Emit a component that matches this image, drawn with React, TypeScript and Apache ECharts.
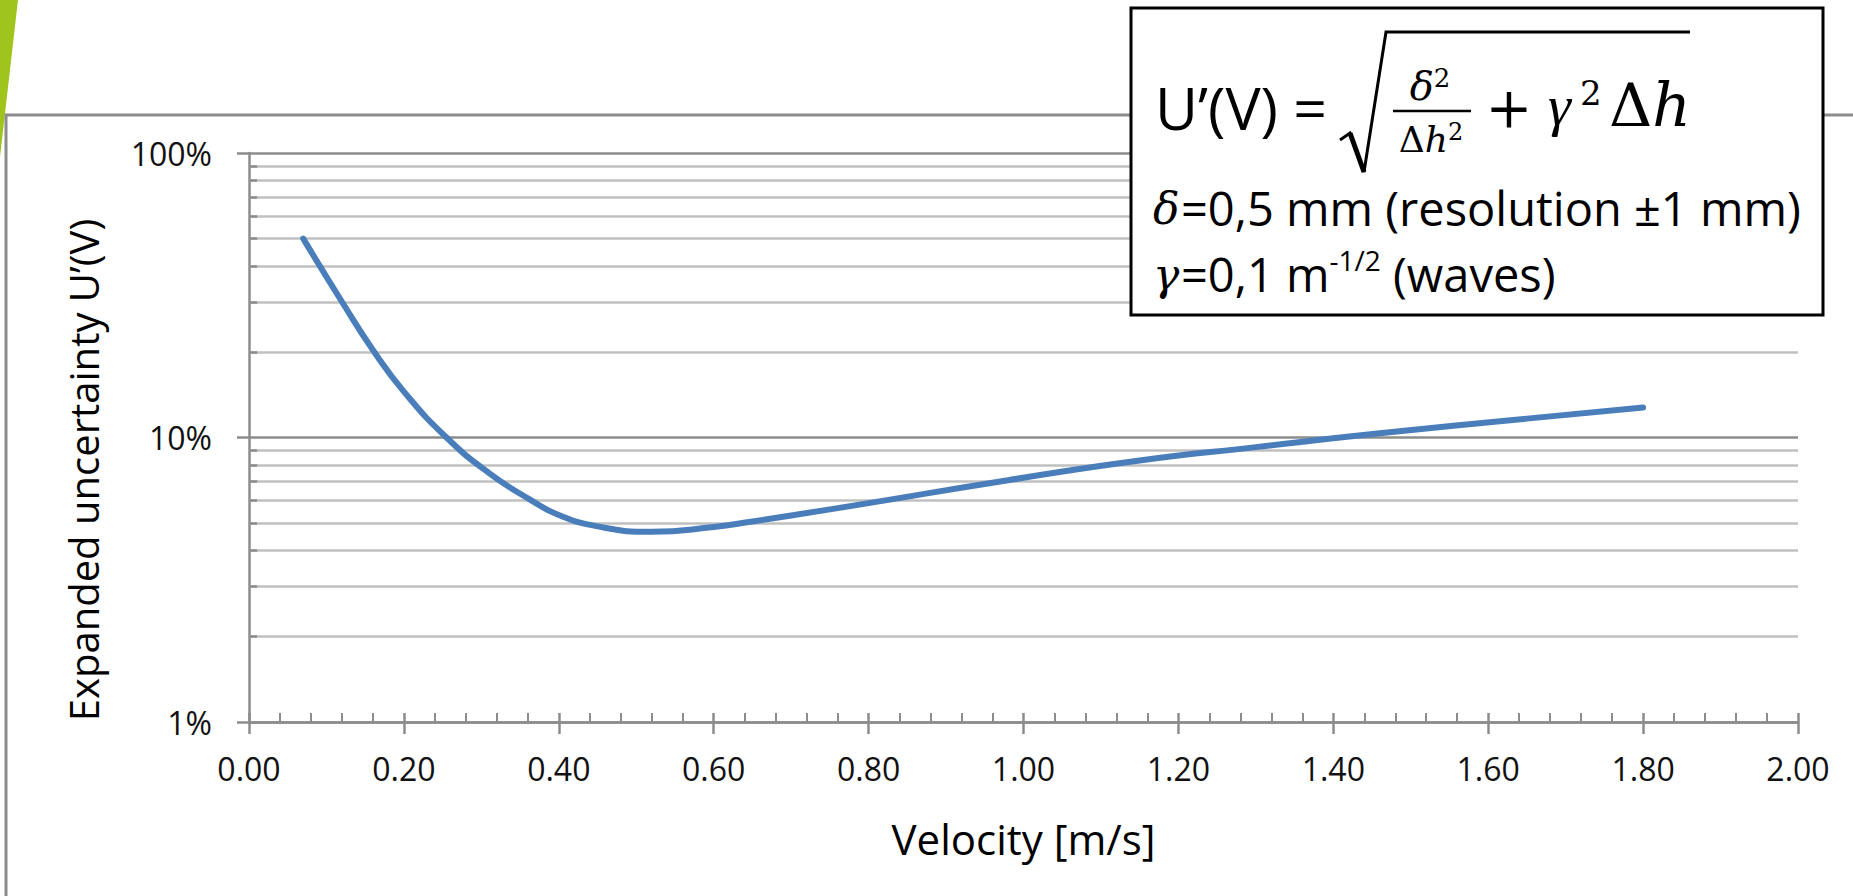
import React, { useEffect, useRef } from "react";
import * as echarts from "echarts";

const velocity = [0.07, 0.12, 0.16, 0.2, 0.255, 0.31, 0.365, 0.4, 0.45, 0.52, 0.6, 0.65, 0.7, 0.8, 0.98, 1.15, 1.3, 1.46, 1.65, 1.8];
const uncertainty = [0.5, 0.3, 0.203, 0.145, 0.1, 0.075, 0.06, 0.0534, 0.0487, 0.0466, 0.0485, 0.0507, 0.0532, 0.0588, 0.0708, 0.083, 0.0925, 0.1035, 0.1165, 0.1275];
const minorLevels = [0.02, 0.03, 0.04, 0.05, 0.06, 0.07, 0.08, 0.09, 0.2, 0.3, 0.4, 0.5, 0.6, 0.7, 0.8, 0.9];
const xTitle = "Velocity [m/s]";
const yTitle = "Expanded uncertainty U’(V)";
const formulaLead = "U’(V) =";
const line2Text = "=0,5 mm (resolution ±1 mm)";
const line3a = "=0,1 m";
const line3sup = "-1/2";
const line3b = " (waves)";

const SANS = "'Open Sans', 'Noto Sans', sans-serif";
const SERIF = "'Liberation Serif', 'DejaVu Serif', serif";
const MATH = "'DejaVu Serif', 'Liberation Serif', serif";
const AXIS = "#8c8c8c";
const MINOR = "#c0c0c0";

export default function App() {
  const ref = useRef<HTMLDivElement>(null);
  useEffect(() => {
    if (!ref.current) return;
    const chart = echarts.init(ref.current, undefined, { renderer: "svg" });
    const points = velocity.map((v, i) => [v, uncertainty[i]]);
    const minorGrid = minorLevels.map((v) => ({ yAxis: v }));
    const minorTicks = minorLevels.map((v) => [{ coord: [0, v] }, { coord: [0.0105, v] }]);
    chart.setOption({
      animation: false,
      backgroundColor: "#ffffff",
      grid: { left: 249, right: 55, top: 153, bottom: 174, containLabel: false },
      xAxis: [
        {
          type: "value",
          min: 0,
          max: 2,
          interval: 0.2,
          position: "bottom",
          axisLine: { show: true, lineStyle: { color: AXIS, width: 2.5 } },
          axisTick: { show: true, inside: true, length: 9, lineStyle: { color: AXIS, width: 2.5 } },
          minorTick: { show: true, splitNumber: 5, length: 9, lineStyle: { color: AXIS, width: 2 } },
          splitLine: { show: false },
          axisLabel: {
            margin: 30,
            fontSize: 32,
            fontFamily: SANS,
            color: "#111",
            formatter: (v: number) => v.toFixed(2),
          },
          name: xTitle,
          nameLocation: "middle",
          nameGap: 95,
          nameTextStyle: { fontSize: 42, fontFamily: SANS, color: "#000" },
        },
        {
          type: "value",
          min: 0,
          max: 2,
          interval: 0.2,
          position: "bottom",
          axisLine: { show: false },
          axisTick: { show: true, inside: false, length: 12, lineStyle: { color: AXIS, width: 2.5 } },
          axisLabel: { show: false },
          splitLine: { show: false },
        },
      ],
      yAxis: {
        type: "log",
        logBase: 10,
        min: 0.01,
        max: 1,
        axisLine: { show: true, lineStyle: { color: AXIS, width: 2.5 } },
        axisTick: { show: true, inside: false, length: 12, lineStyle: { color: AXIS, width: 2.5 } },
        splitLine: { show: true, lineStyle: { color: AXIS, width: 2.5 } },
        axisLabel: {
          margin: 37,
          fontSize: 32,
          fontFamily: SANS,
          color: "#111",
          formatter: (v: number) => Math.round(v * 100) + "%",
        },
      },
      series: [
        {
          type: "line",
          xAxisIndex: 0,
          data: points,
          smooth: 0.5,
          symbol: "none",
          z: 10,
          lineStyle: { color: "#4a7ebb", width: 6, cap: "round", join: "round" },
          markLine: {
            silent: true,
            symbol: "none",
            label: { show: false },
            animation: false,
            data: [
              ...minorGrid.map((d) => ({ ...d, lineStyle: { color: MINOR, width: 2.5, type: "solid" } })),
              ...minorTicks.map((pair) => [
                { ...pair[0], lineStyle: { color: AXIS, width: 2.5, type: "solid" } },
                pair[1],
              ]),
            ],
          },
        },
      ],
      graphic: [
        { type: "polygon", z: 1, shape: { points: [[0, 0], [18, 0], [0, 157]] }, style: { fill: "#9fc41c" } },
        { type: "polyline", z: 1, shape: { points: [[6, 896], [6, 115], [1853, 115]] }, style: { stroke: AXIS, lineWidth: 3, fill: "none" } },
        { type: "rect", z: 20, shape: { x: 1131, y: 8, width: 692, height: 307 }, style: { fill: "#fff", stroke: "#000", lineWidth: 3 } },
        { type: "text", z: 21, x: 1155, y: 107, style: { text: formulaLead, font: `59px ${SANS}`, fill: "#000", align: "left", verticalAlign: "middle" } },
        { type: "polyline", z: 21, shape: { points: [[1340, 140], [1350, 133], [1364, 172], [1386, 32], [1690, 32]] }, style: { stroke: "#000", lineWidth: 3, fill: "none" } },
        { type: "line", z: 21, shape: { x1: 1350, y1: 133, x2: 1364, y2: 172 }, style: { stroke: "#000", lineWidth: 5 } },
        {
          type: "text", z: 21, x: 1430, y: 86,
          style: {
            text: "{i|δ}{s|2}",
            rich: { i: { font: `italic 40px ${MATH}`, lineHeight: 42 }, s: { font: `26px ${MATH}`, lineHeight: 26, verticalAlign: "top" } },
            fill: "#000", align: "center", verticalAlign: "middle",
          },
        },
        { type: "line", z: 21, shape: { x1: 1393, y1: 111, x2: 1471, y2: 111 }, style: { stroke: "#000", lineWidth: 2.5 } },
        {
          type: "text", z: 21, x: 1431, y: 139,
          style: {
            text: "{u|Δ}{i|h}{s|2}",
            rich: {
              u: { font: `36px ${MATH}`, lineHeight: 38 },
              i: { font: `italic 36px ${MATH}`, lineHeight: 38 },
              s: { font: `24px ${MATH}`, lineHeight: 24, verticalAlign: "top" },
            },
            fill: "#000", align: "center", verticalAlign: "middle",
          },
        },
        { type: "text", z: 21, x: 1509, y: 107, style: { text: "+", font: `56px ${MATH}`, fill: "#000", align: "center", verticalAlign: "middle" } },
        { type: "text", z: 21, x: 1548, y: 105, style: { text: "γ", font: `italic 58px ${SERIF}`, fill: "#000", align: "left", verticalAlign: "middle" } },
        { type: "text", z: 21, x: 1580, y: 93, style: { text: "2", font: `34px ${MATH}`, fill: "#000", align: "left", verticalAlign: "middle" } },
        { type: "text", z: 21, x: 1609, y: 105, style: { text: "{u|Δ}{i|h}", rich: { u: { font: `60px ${MATH}` }, i: { font: `italic 60px ${MATH}` } }, fill: "#000", align: "left", verticalAlign: "middle" } },
        { type: "text", z: 21, x: 1153, y: 208, style: { text: "δ", font: `italic 44px ${MATH}`, fill: "#000", align: "left", verticalAlign: "middle" } },
        { type: "text", z: 21, x: 1181, y: 208, style: { text: line2Text, font: `47px ${SANS}`, fill: "#000", align: "left", verticalAlign: "middle" } },
        { type: "text", z: 21, x: 1153, y: 274, style: { text: "γ", font: `italic 44px ${MATH}`, fill: "#000", align: "left", verticalAlign: "middle" } },
        {
          type: "text", z: 21, x: 1181, y: 274,
          style: {
            text: `{t|${line3a}}{s|${line3sup}}{t|${line3b}}`,
            rich: {
              t: { font: `47px ${SANS}`, lineHeight: 56 },
              s: { font: `28px ${SANS}`, lineHeight: 28, verticalAlign: "top" },
            },
            fill: "#000", align: "left", verticalAlign: "middle",
          },
        },
        { type: "text", z: 5, x: 83, y: 470, rotation: Math.PI / 2, style: { text: yTitle, font: `40px ${SANS}`, fill: "#000", align: "center", verticalAlign: "middle" } },
      ],
    });
    return () => chart.dispose();
  }, []);
  return <div ref={ref} style={{ position: "fixed", left: 0, top: 0, width: 1853, height: 896, background: "#fff" }} />;
}
